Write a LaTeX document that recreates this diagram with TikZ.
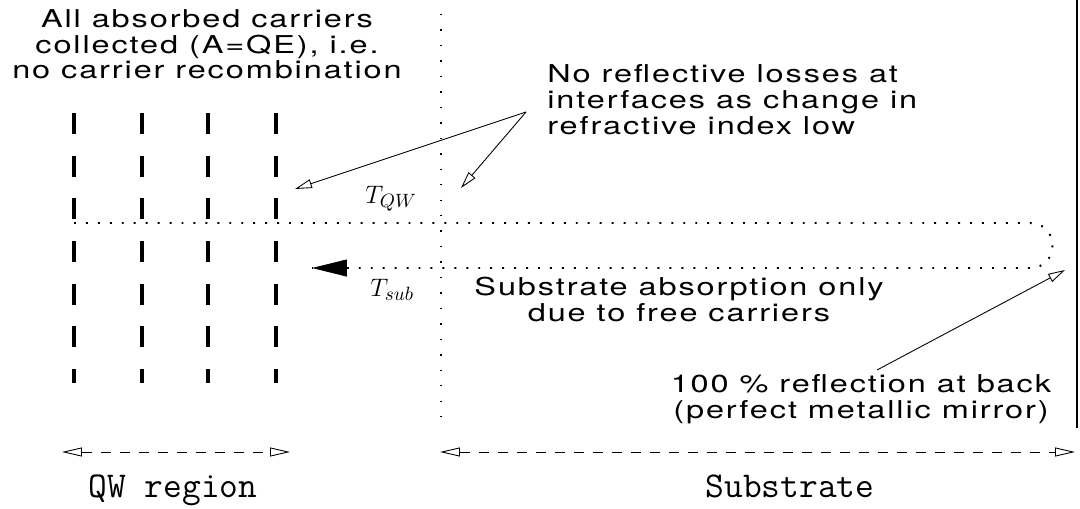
\documentclass[tikz,border=0pt]{standalone}
\usepackage{fontspec}
\setmainfont{TeX Gyre Heros}
\newfontfamily\widesans[FakeStretch=1.32,LetterSpace=7.7]{TeX Gyre Heros}
\usetikzlibrary{arrows.meta}
\begin{document}
\begin{tikzpicture}[x=0.02cm,y=-0.02cm,
  note/.style={font=\widesans\fontsize{14}{14.7}\selectfont, inner sep=0pt, align=center},
  dimlabel/.style={font=\fontsize{20.7}{24}\selectfont\ttfamily, inner sep=0pt},
  mathlabel/.style={font=\fontsize{15}{15}\selectfont, inner sep=0pt},
  well/.style={line width=2.3pt, dash pattern=on 0.42cm off 0.434cm},
  beam/.style={line width=1.1pt, dash pattern=on 1.1pt off 5.7pt},
  interface/.style={line width=0.8pt, dash pattern=on 0.8pt off 8pt},
  pointer/.style={line width=0.5pt, -{Triangle[open, length=0.34cm, width=0.18cm]}},
  span/.style={line width=0.5pt, dash pattern=on 0.2cm off 0.18cm,
    {Triangle[open, length=0.4cm, width=0.18cm]}-{Triangle[open, length=0.4cm, width=0.18cm]}},
  mirrorline/.style={line width=1.7pt}]
\useasboundingbox (0,0) rectangle (1080,508);

% quantum wells
\foreach \x in {74,142,208,276}
  \draw[well] (\x,113) -- (\x,383);

% interface between QW region and substrate
\draw[interface] (441,14) -- (441,425);

% back mirror
\coordinate (mtop) at (1077,0);
\coordinate (mbot) at (1077,428);
\draw[mirrorline] (mtop) -- (mbot);

% light path: in, reflected at back, out
\coordinate (bin) at (74,223);
\coordinate (bturn1) at (1030,223);
\coordinate (bturn2) at (1030,268);
\coordinate (bout) at (312,268);
\draw[beam] (bin) -- (bturn1) .. controls (1060,223) and (1060,268) .. (bturn2) -- (bout);
\coordinate (bhead) at (340,268);
\draw[line width=0.5pt, -{Triangle[length=0.7cm, width=0.34cm]}] (bhead) -- (bout);

% labels
\node[note, anchor=north] (qe) at (207,9)
  {All absorbed carriers\\collected (A=QE), i.e.\\no carrier recombination};
\node[note, anchor=north west, align=left] (refl) at (547,64)
  {No reflective losses at\\interfaces as change in\\refractive index low};
\node[note, anchor=north] (sub) at (679,277)
  {Substrate absorption only\\due to free carriers};
\node[note, anchor=north] (mir) at (861,374)
  {100 \% reflection at back\\(perfect metallic mirror)};
\node[mathlabel, anchor=base west] (tqw) at (365,203) {$T_{QW}$};
\node[mathlabel, anchor=base west] (tsub) at (370,296) {$T_{sub}$};

% pointers
\coordinate (rfrom) at (526,112);
\coordinate (rto1) at (295,189);
\coordinate (rto2) at (461,188);
\draw[pointer] (rfrom) -- (rto1);
\draw[pointer] (rfrom) -- (rto2);
\coordinate (mfrom) at (877,370);
\coordinate (mto) at (1065,270);
\draw[pointer] (mfrom) -- (mto);

% extents
\coordinate (qwl) at (62,452);
\coordinate (qwr) at (290,452);
\coordinate (sbl) at (440,452);
\coordinate (sbr) at (1075,452);
\draw[span] (qwl) -- (qwr);
\draw[span] (sbl) -- (sbr);
\node[dimlabel, anchor=base] (lqw) at (173,497) {QW region};
\node[dimlabel, anchor=base] (lsub) at (790,497) {Substrate};
\end{tikzpicture}
\end{document}
